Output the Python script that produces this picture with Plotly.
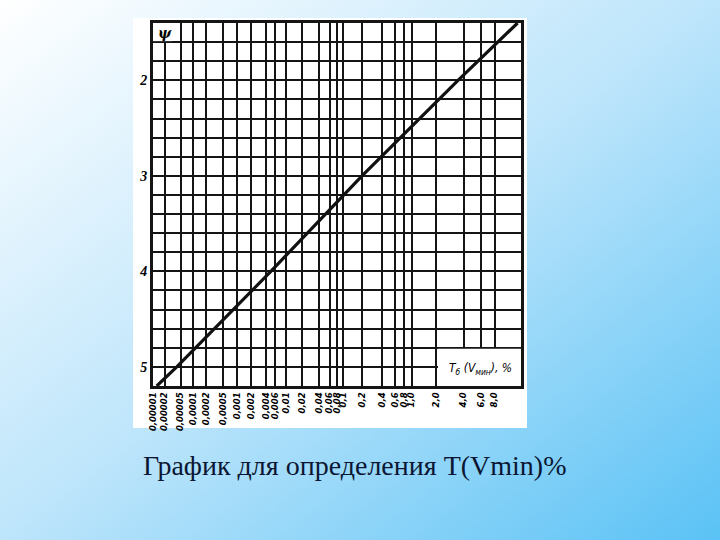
import base64
from statistics import NormalDist
import plotly.graph_objects as go

# ---- data ----
tick_T = [0.00001, 0.00002, 0.00005, 0.0001, 0.0002, 0.0005, 0.001, 0.002, 0.004, 0.006,
          0.01, 0.02, 0.04, 0.06, 0.08, 0.1, 0.2, 0.4, 0.6, 0.8, 1.0, 2.0, 4.0, 6.0, 8.0]
tick_T_text = ["0,00001", "0,00002", "0,00005", "0,0001", "0,0002", "0,0005", "0,001", "0,002",
               "0,004", "0,006", "0,01", "0,02", "0,04", "0,06", "0,08", "0,1", "0,2", "0,4",
               "0,6", "0,8", "1,0", "2,0", "4,0", "6,0", "8,0"]
psi_ticks = [2, 3, 4, 5]
psi_text = ["2", "3", "4", "5"]
psi_grid = [1.6, 1.8, 2.0, 2.2, 2.4, 2.6, 2.8, 3.0, 3.2, 3.4, 3.6, 3.8, 4.0, 4.2, 4.4, 4.6, 4.8, 5.0]

line_T = [0.0000125, 0.00004, 0.005, 0.2, 3.5, 12.5]
line_psi = [5.2, 5.0, 4.0, 3.0, 2.0, 1.4]

T_range = [0.00001, 13.3]
psi_range = [5.2, 1.4]

# probability-paper (normal quantile) scale for T, %
nd = NormalDist()
def zq(t):
    return nd.inv_cdf(t / 100.0)

W, H = 720, 540
def px(x):
    return x / W
def py(y):
    return 1 - y / H

fig = go.Figure()
fig.add_trace(go.Scatter(
    x=[zq(t) for t in line_T], y=line_psi, mode="lines",
    line=dict(color="#111111", width=3.2), hoverinfo="skip", showlegend=False))

ink = "#151515"
fig.update_xaxes(
    domain=[px(153), px(521)], range=[zq(T_range[0]), zq(T_range[1])], automargin=False,
    tickmode="array", tickvals=[zq(t) for t in tick_T], ticktext=tick_T_text,
    tickangle=-90, ticks="", ticklen=0,
    tickfont=dict(family="DejaVu Sans", size=8.5,
                  color="#000000", weight="bold", style="italic"),
    showgrid=True, gridcolor=ink, gridwidth=1.7, zeroline=False,
    showline=True, mirror=True, linecolor=ink, linewidth=3)
fig.update_yaxes(
    domain=[py(386), py(23)], range=psi_range, automargin=False,
    tickmode="array", tickvals=psi_ticks, ticktext=psi_text, ticks="",
    tickfont=dict(family="Liberation Serif", size=14, color="#000000", style="italic", weight="bold"),
    showgrid=True, gridcolor=ink, gridwidth=1.7, zeroline=False,
    minor=dict(tickmode="array", tickvals=psi_grid, showgrid=True, gridcolor=ink, gridwidth=1.7,
               ticks=""),
    showline=True, mirror=True, linecolor=ink, linewidth=3)

svg = ('<svg xmlns="http://www.w3.org/2000/svg" width="720" height="540" viewBox="0 0 720 540" '
       'preserveAspectRatio="none"><defs><linearGradient id="g" x1="0" y1="0" x2="1" y2="1">'
       '<stop offset="0" stop-color="#ffffff"/><stop offset="0.5" stop-color="#bde5fb"/>'
       '<stop offset="1" stop-color="#5ac2f5"/></linearGradient></defs>'
       '<rect width="720" height="540" fill="url(#g)"/></svg>')
src = "data:image/svg+xml;base64," + base64.b64encode(svg.encode()).decode()

shapes = [
    # white scanned sheet
    dict(type="rect", xref="paper", yref="paper", x0=px(133), x1=px(527), y0=py(428), y1=py(18),
         fillcolor="white", line=dict(width=0), layer="below"),
    # blank box for the axis caption
    dict(type="rect", xref="x", yref="y", x0=zq(2.0) + 0.02, x1=zq(T_range[1]), y0=4.81, y1=5.2,
         fillcolor="white", line=dict(width=0), layer="above"),
    # blank cell for ψ
    dict(type="rect", xref="x", yref="y", x0=zq(T_range[0]), x1=zq(0.00002) + 0.08, y0=1.4, y1=1.59,
         fillcolor="white", line=dict(width=0), layer="above"),
]

annotations = [
    dict(text="ψ", xref="x", yref="y", x=zq(0.00002), y=1.5, showarrow=False,
         font=dict(family="DejaVu Serif", size=14, color="#000000", style="italic", weight="bold")),
    dict(text="T<sub>б</sub> (V<sub>мин</sub>), %", xref="x", yref="y",
         x=(zq(2.0) + zq(T_range[1])) / 2 + 0.02, y=5.02, showarrow=False,
         font=dict(family="Liberation Sans Narrow, DejaVu Sans Condensed", size=12, color="#000000",
                   style="italic")),
    dict(text="График для определения T(Vmin)%", xref="paper", yref="paper",
         x=px(355), y=py(465), showarrow=False, xanchor="center", yanchor="middle",
         font=dict(family="Liberation Serif, Times New Roman", size=28, color="#0b1633")),
]

fig.update_layout(
    width=W, height=H, margin=dict(l=0, r=0, t=0, b=0, autoexpand=False),
    paper_bgcolor="white", plot_bgcolor="white", showlegend=False,
    images=[dict(source=src, xref="paper", yref="paper", x=0, y=1, sizex=1, sizey=1,
                 xanchor="left", yanchor="top", sizing="stretch", layer="below")],
    shapes=shapes, annotations=annotations)

fig.write_html("out.html", config={"displayModeBar": False},
               post_script="document.body.style.margin='0';")
